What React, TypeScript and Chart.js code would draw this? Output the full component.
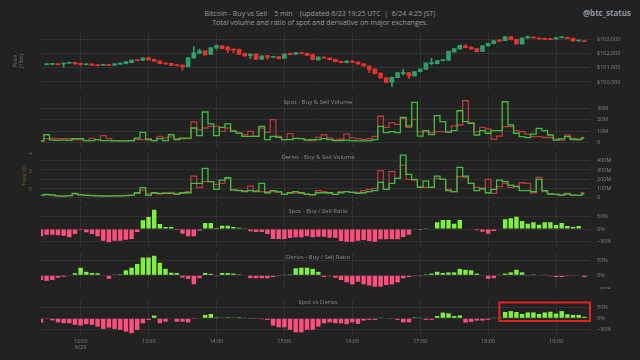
import React, { useEffect, useRef } from 'react';
import { Chart, registerables } from 'chart.js';

Chart.register(...registerables);

const FONT = "'Open Sans', 'DejaVu Sans', sans-serif";
Chart.defaults.font.family = FONT;

const TIMES = [
  '11:25', '11:30', '11:35', '11:40', '11:45', '11:50', '11:55',
  '12:00', '12:05', '12:10', '12:15', '12:20', '12:25', '12:30', '12:35', '12:40', '12:45', '12:50', '12:55',
  '13:00', '13:05', '13:10', '13:15', '13:20', '13:25', '13:30', '13:35', '13:40', '13:45', '13:50', '13:55',
  '14:00', '14:05', '14:10', '14:15', '14:20', '14:25', '14:30', '14:35', '14:40', '14:45', '14:50', '14:55',
  '15:00', '15:05', '15:10', '15:15', '15:20', '15:25', '15:30', '15:35', '15:40', '15:45', '15:50', '15:55',
  '16:00', '16:05', '16:10', '16:15', '16:20', '16:25', '16:30', '16:35', '16:40', '16:45', '16:50', '16:55',
  '17:00', '17:05', '17:10', '17:15', '17:20', '17:25', '17:30', '17:35', '17:40', '17:45', '17:50', '17:55',
  '18:00', '18:05', '18:10', '18:15', '18:20', '18:25', '18:30', '18:35', '18:40', '18:45', '18:50', '18:55',
  '19:00', '19:05', '19:10', '19:15', '19:20', '19:25', '19:30',
];
const DATE_LABEL = { time: '12:00', date: '6/23' };

// Price candles (USD)
const PRICE_OPEN = [null,
  101208, 101231, 101278, 101255, 101301, 101371, 101301, 101208, 101255, 101208,
  101161, 101231, 101161, 101231, 101278, 101348, 101535, 101511, 101697, 101580,
  101464, 101324, 101301, 101185, 101185, 101068, 101673, 101999, 102185, 101929,
  102371, 102534, 102418, 102302, 102278, 101999, 101836, 101953, 101580, 101836,
  101720, 101766, 101650, 101999, 101929, 102046, 101999, 101906, 101535, 101743,
  101673, 101580, 101441, 101348, 101464, 101394, 101278, 101115, 100905, 100626,
  100300, 99975, 100300, 100580, 100649, 100417, 100719, 100882, 101278, 101278,
  101487, 101511, 102092, 102302, 102534, 102418, 102325, 102139, 102511, 102674,
  102930, 102883, 103163, 102976, 102651, 103070, 103139, 103070, 103046, 103023,
  103000, 103093, 103116, 103046, 102860, 102883, null];
const PRICE_CLOSE = [null,
  101255, 101278, 101208, 101324, 101371, 101255, 101208, 101255, 101161, 101138,
  101231, 101161, 101278, 101324, 101417, 101535, 101487, 101673, 101535, 101441,
  101278, 101255, 101161, 101138, 101068, 101697, 102046, 102185, 101883, 102395,
  102534, 102325, 102232, 102232, 101929, 101813, 101953, 101580, 101813, 101720,
  101790, 101627, 101953, 101906, 102046, 101976, 101860, 101560, 101743, 101673,
  101557, 101417, 101348, 101464, 101371, 101255, 101115, 100882, 100580, 100277,
  99975, 100324, 100649, 100673, 100417, 100719, 100905, 101324, 101348, 101487,
  101557, 102139, 102325, 102558, 102395, 102302, 102115, 102534, 102697, 102883,
  102837, 103163, 102953, 102651, 103070, 103163, 103070, 103000, 102976, 102953,
  103093, 103139, 103023, 102860, 102907, 102814, null];
const PRICE_HIGH = [null,
  101280, 101300, 101290, 101340, 101390, 101390, 101320, 101270, 101270, 101220,
  101250, 101245, 101290, 101340, 101430, 101550, 101550, 101690, 101710, 101595,
  101480, 101340, 101315, 101200, 101200, 101710, 102465, 102302, 102200, 102410,
  102604, 102550, 102511, 102320, 102295, 102015, 101970, 101970, 101830, 101850,
  101805, 101780, 101970, 102015, 102060, 102060, 102015, 101920, 101760, 101760,
  101690, 101595, 101455, 101480, 101480, 101410, 101295, 101130, 100920, 100640,
  100315, 100340, 100665, 100882, 100665, 100735, 100920, 101340, 101650, 101505,
  101575, 102155, 102340, 102575, 102604, 102465, 102340, 102550, 102715, 102900,
  102960, 103180, 103180, 102995, 103085, 103220, 103155, 103085, 103060, 103040,
  103110, 103155, 103130, 103060, 102920, 102900, null];
const PRICE_LOW = [null,
  101190, 101210, 101190, 101022, 101290, 101240, 101190, 101190, 101150, 101120,
  101150, 101145, 101150, 101220, 101265, 101335, 101470, 101500, 101520, 101425,
  101260, 101240, 101145, 101120, 100836, 101050, 101660, 101985, 101870, 101915,
  102278, 102310, 102046, 102046, 101915, 101800, 101627, 101565, 101565, 101580,
  101705, 101610, 101635, 101890, 101915, 101960, 101845, 101540, 101520, 101660,
  101540, 101400, 101330, 101335, 101355, 101240, 101100, 100649, 100565, 100260,
  99960, 99672, 100285, 100487, 100254, 100400, 100705, 100865, 101185, 101265,
  101470, 101495, 102075, 102285, 102370, 102285, 102100, 102125, 102495, 102660,
  102820, 102870, 102940, 102635, 102635, 103055, 103055, 102985, 102960, 102940,
  102985, 103080, 103010, 102845, 102845, 102800, null];
const PRICE_TICKS = [100000, 101000, 102000, 103000];

// Spot volume (millions USD)
const SPOT_BUY = [
  1.5, 6.9, 2.2, 2.0, 2.2, 2.0, 3.5, 3.5, 1.8, 1.8,
  2.6, 1.8, 1.8, 1.5, 1.5, 1.5, 1.8, 4.0, 9.0, 2.6,
  1.8, 3.5, 1.8, 6.9, 2.6, 4.0, 4.0, 12.8, 6.1, 26.7,
  16.3, 6.1, 13.4, 16.3, 9.9, 8.4, 5.5, 5.5, 5.5, 14.2,
  2.6, 5.5, 4.7, 2.6, 2.6, 3.8, 3.5, 2.2, 2.6, 2.6,
  3.5, 2.6, 1.8, 1.8, 2.2, 1.8, 1.5, 1.5, 1.8, 2.6,
  14.2, 8.8, 9.6, 8.8, 22.0, 14.6, 35.0, 5.8, 10.5, 7.1,
  23.5, 18.3, 9.2, 10.5, 27.8, 18.3, 16.8, 6.7, 10.5, 8.2,
  10.5, 10.5, 35.6, 15.4, 8.2, 5.3, 4.4, 7.5, 12.5, 10.5,
  6.7, 2.3, 3.3, 5.3, 2.8, 2.8, 3.8, null];
const SPOT_SELL = [
  1.5, 3.5, 3.8, 3.5, 3.5, 3.5, 2.6, 2.6, 1.8, 3.8,
  2.6, 6.1, 3.5, 1.8, 1.5, 1.5, 1.8, 2.6, 2.6, 3.5,
  1.8, 5.5, 4.2, 5.0, 3.5, 3.5, 3.5, 18.0, 11.4, 12.8,
  14.2, 14.2, 9.9, 12.8, 10.5, 8.4, 6.9, 9.9, 5.5, 12.8,
  9.0, 20.0, 5.5, 2.6, 7.9, 3.5, 3.5, 2.6, 1.8, 4.7,
  6.9, 4.2, 2.6, 3.0, 7.5, 4.2, 3.5, 2.6, 3.5, 5.5,
  23.0, 13.4, 17.4, 16.0, 21.0, 13.4, 20.3, 9.6, 9.6, 8.8,
  9.6, 9.6, 9.6, 14.6, 15.4, 36.5, 17.4, 9.6, 13.4, 11.9,
  3.0, 5.8, 14.0, 14.0, 10.5, 9.6, 7.5, 5.3, 5.3, 4.5,
  4.5, 3.3, 2.3, 6.7, 3.8, 2.8, 4.5, null];
const SPOT_VOL_TICKS = [0, 10, 20, 30];

// Derivatives volume (millions USD)
const DERIV_BUY = [
  25, 35, 30, 20, 18, 22, 47, 30, 25, 22,
  20, 18, 18, 20, 20, 22, 25, 54, 110, 25,
  54, 47, 47, 47, 36, 54, 54, 155, 155, 318,
  173, 90, 191, 216, 83, 76, 65, 76, 65, 155,
  54, 76, 65, 36, 54, 65, 54, 36, 33, 54,
  54, 54, 36, 54, 65, 58, 47, 54, 65, 76,
  166, 90, 155, 209, 461, 252, 198, 112, 180, 112,
  234, 198, 76, 65, 328, 234, 155, 76, 101, 54,
  90, 191, 173, 137, 119, 76, 76, 65, 198, 76,
  40, 36, 29, 40, 29, 25, 40, null];
const DERIV_SELL = [
  25, 33, 25, 20, 18, 22, 40, 33, 29, 25,
  22, 22, 20, 20, 22, 25, 29, 47, 83, 40,
  47, 40, 54, 58, 47, 47, 65, 234, 110, 173,
  173, 143, 155, 209, 90, 83, 76, 126, 76, 65,
  65, 65, 58, 36, 47, 54, 47, 40, 29, 76,
  65, 47, 36, 65, 65, 58, 58, 76, 90, 101,
  292, 90, 281, 209, 353, 198, 191, 119, 112, 112,
  209, 198, 90, 65, 227, 220, 155, 112, 90, 198,
  47, 119, 155, 112, 126, 162, 155, 54, 220, 65,
  40, 36, 29, 47, 29, 25, 54, null];
const DERIV_VOL_TICKS = [0, 100, 200, 300, 400];
const OI_TICKS = [0, 2, 4];

// Ratios (%)
const SPOT_RATIO = [
  -29, -23, -23, -25, -27, -33, -20, -4, -13, -20,
  -29, -47, -53, -47, -47, -43, -40, -12, 35, 48,
  77, 20, 8, 8, -4, -19, -29, -29, -7, 24,
  24, 4, 13, 13, 8, 5, 3, -9, -12, -12,
  -20, -40, -40, -40, -36, -33, -33, -29, -33, -31,
  -31, -35, -35, -48, -51, -51, -47, -44, -48, -51,
  -41, -41, -41, -41, -32, -23, -2, -4, 1, 2,
  27, 36, 36, 21, 36, 0, 2, -5, -11, -19,
  -8, 0, 39, 43, 49, 32, 21, 27, 17, 27,
  27, 16, 24, 12, 8, 12, 2, null];
const DERIV_RATIO = [
  -16, -19, -16, -8, -5, -2, 7, 26, 12, 8,
  7, 0, -12, 1, 3, 17, 26, 39, 61, 61,
  67, 43, 22, 9, 8, -8, -12, -31, -10, 8,
  5, -3, 8, 8, 6, 3, 0, -10, -10, -10,
  -10, -6, -3, 1, 3, 24, 26, 26, 22, 12,
  -6, -3, -8, -16, -24, -31, -22, -31, -35, -39,
  -39, -33, -31, -24, -10, -6, -3, -3, 3, 6,
  12, 8, 10, 10, 22, 19, 17, 6, 0, -12,
  -10, 1, 6, 10, 19, 10, -3, 3, 0, 1,
  -3, -6, -6, -3, -1, 0, -6, null];
const SPOT_VS_DERIV = [
  -18, -3, -9, -18, -22, -22, -29, -32, -26, -29,
  -37, -47, -41, -47, -51, -59, -66, -51, -22, -7,
  12, -22, -15, 0, -15, -15, -18, -1, 0, 15,
  19, 4, 3, 4, 3, 4, 3, -1, -1, -4,
  -7, -32, -40, -40, -51, -62, -62, -51, -51, -37,
  -22, -18, -22, -22, -26, -18, -25, -10, -7, -7,
  3, 0, -1, -7, -18, -18, 4, 3, -7, -7,
  10, 25, 22, 10, 13, -19, -16, -10, -10, -7,
  3, 1, 28, 32, 28, 19, 26, 26, 19, 26,
  29, 21, 32, 18, 15, 15, 7, null];
const RATIO_TICKS = [-50, 0, 50];
const HIGHLIGHT = { from: '18:10', to: '19:30', top: 70, bottom: -12 };

// Styling
const BG = '#222222';
const GRID = 'rgba(255,255,255,0.07)';
const TICK = '#858585';
const OI_COLOR = '#7d6530';
const UP = '#2f9e6d';
const DOWN = '#e8322f';
const BUY = '#3fbf3f';
const SELL = '#b8393d';
const POS = '#80f040';
const NEG = '#ff4f7e';
const TICK_FONT = { size: 5.5, family: FONT };

const fmtPrice = (v: number) => '$' + Number(v).toLocaleString('en-US');
const fmtM = (v: number) => (v === 0 ? '0' : `${v}M`);
const fmtPct = (v: number) => (v < 0 ? `\u2212${Math.abs(v)}%` : `${v}%`);

const zeroPadding = (scale: any) => {
  scale.paddingTop = 0;
  scale.paddingBottom = 0;
  scale.paddingLeft = 0;
  scale.paddingRight = 0;
};

function xScale(showLabels: boolean) {
  return {
    type: 'category',
    offset: false,
    grid: { color: GRID, drawTicks: false, offset: false },
    border: { display: false },
    ticks: {
      display: showLabels,
      autoSkip: false,
      maxRotation: 0,
      color: TICK,
      font: TICK_FONT,
      padding: 3,
      callback: (value: number) => {
        const l = TIMES[value];
        return l === DATE_LABEL.time ? [l, DATE_LABEL.date] : l;
      },
    },
    afterBuildTicks: (scale: any) => {
      scale.ticks = scale.ticks.filter((t: any) => TIMES[t.value].endsWith(':00'));
    },
    afterFit: (scale: any) => {
      scale.height = showLabels ? 25 : 0;
      zeroPadding(scale);
    },
  };
}

function yRight(min: number, max: number, ticks: number[], fmt: (v: number) => string) {
  return {
    type: 'linear',
    position: 'right',
    min,
    max,
    beginAtZero: false,
    grid: { color: GRID, drawTicks: false },
    border: { display: false },
    ticks: { color: TICK, font: TICK_FONT, padding: 7, callback: fmt },
    afterBuildTicks: (scale: any) => {
      scale.ticks = ticks.map((v) => ({ value: v }));
    },
    afterFit: (scale: any) => {
      scale.width = 50;
      zeroPadding(scale);
    },
  };
}

function baseOptions(scales: any, padLeft: number) {
  return {
    responsive: false,
    animation: false,
    events: [],
    layout: { padding: { left: padLeft, right: 0, top: 0, bottom: 0 }, autoPadding: false },
    plugins: { legend: { display: false }, tooltip: { enabled: false }, title: { display: false } },
    scales,
  };
}

const candleColors = TIMES.map((_, i) =>
  PRICE_OPEN[i] != null && (PRICE_CLOSE[i] as number) >= (PRICE_OPEN[i] as number) ? UP : DOWN
);

function priceConfig(): any {
  return {
    type: 'bar',
    data: {
      labels: TIMES,
      datasets: [
        {
          data: TIMES.map((_, i) => (PRICE_OPEN[i] == null ? null : [PRICE_OPEN[i], PRICE_CLOSE[i]])),
          backgroundColor: candleColors,
          barThickness: 4,
          grouped: false,
          minBarLength: 1,
        },
        {
          data: TIMES.map((_, i) => (PRICE_LOW[i] == null ? null : [PRICE_LOW[i], PRICE_HIGH[i]])),
          backgroundColor: candleColors,
          barThickness: 1,
          grouped: false,
        },
      ],
    },
    options: baseOptions({ x: xScale(false), y: yRight(99440, 103420, PRICE_TICKS, fmtPrice) }, 41),
  };
}

function volumeDatasets(buy: (number | null)[], sell: (number | null)[]) {
  const common = { stepped: 'middle', pointRadius: 0, borderWidth: 1.3, fill: false, tension: 0 };
  return [
    { ...common, data: buy, borderColor: BUY },
    { ...common, data: sell, borderColor: SELL },
  ];
}

function spotVolConfig(): any {
  return {
    type: 'line',
    data: { labels: TIMES, datasets: volumeDatasets(SPOT_BUY, SPOT_SELL) },
    options: baseOptions({ x: xScale(false), y: yRight(-3.74, 39.74, SPOT_VOL_TICKS, fmtM) }, 41),
  };
}

function derivVolConfig(): any {
  return {
    type: 'line',
    data: { labels: TIMES, datasets: volumeDatasets(DERIV_BUY, DERIV_SELL) },
    options: baseOptions(
      {
        x: xScale(false),
        y: yRight(-57, 494, DERIV_VOL_TICKS, fmtM),
        oi: {
          type: 'linear',
          position: 'left',
          min: -1.51,
          max: 4.11,
          grid: { display: false },
          border: { display: false },
          ticks: { color: OI_COLOR, font: TICK_FONT, padding: 1 },
          afterBuildTicks: (scale: any) => {
            scale.ticks = OI_TICKS.map((v) => ({ value: v }));
          },
          afterFit: (scale: any) => {
            scale.width = 41;
            zeroPadding(scale);
          },
        },
      },
      0
    ),
  };
}

function ratioConfig(values: (number | null)[], min: number, max: number, showX: boolean, extraPlugins: any[] = []): any {
  return {
    type: 'bar',
    data: {
      labels: TIMES,
      datasets: [
        {
          data: values,
          backgroundColor: values.map((v) => ((v ?? 0) >= 0 ? POS : NEG)),
          barPercentage: 0.78,
          categoryPercentage: 1,
        },
      ],
    },
    options: baseOptions({ x: xScale(showX), y: yRight(min, max, RATIO_TICKS, fmtPct) }, 41),
    plugins: extraPlugins,
  };
}

const highlightPlugin = {
  id: 'highlightBox',
  afterDatasetsDraw(chart: any) {
    const { ctx, scales } = chart;
    const x0 = scales.x.getPixelForValue(TIMES.indexOf(HIGHLIGHT.from));
    const x1 = scales.x.getPixelForValue(TIMES.indexOf(HIGHLIGHT.to));
    const y0 = scales.y.getPixelForValue(HIGHLIGHT.top);
    const y1 = scales.y.getPixelForValue(HIGHLIGHT.bottom);
    ctx.save();
    ctx.strokeStyle = '#e5221e';
    ctx.lineWidth = 2;
    ctx.strokeRect(x0, y0, x1 - x0, y1 - y0);
    ctx.restore();
  },
};

function Panel({ top, height, make }: { top: number; height: number; make: () => any }) {
  const ref = useRef<HTMLCanvasElement | null>(null);
  useEffect(() => {
    if (!ref.current) return;
    const chart = new Chart(ref.current, make());
    return () => chart.destroy();
  }, []);
  return (
    <canvas
      ref={ref}
      width={640}
      height={height}
      style={{ position: 'absolute', left: 0, top, width: 640, height, display: 'block' }}
    />
  );
}

function Text({
  x, y, size, color, bold = false, align = 'center', rotate = false, lineHeight, children,
}: {
  x: number; y: number; size: number; color: string; bold?: boolean; align?: 'center' | 'right';
  rotate?: boolean; lineHeight?: number; children: React.ReactNode;
}) {
  const tx = align === 'right' ? '-100%' : '-50%';
  return (
    <div
      style={{
        position: 'absolute',
        left: x,
        top: y,
        transform: `translate(${tx}, -50%)${rotate ? ' rotate(-90deg)' : ''}`,
        fontFamily: FONT,
        fontSize: size,
        lineHeight: `${lineHeight ?? size * 1.25}px`,
        fontWeight: bold ? 700 : 400,
        color,
        whiteSpace: 'pre',
        textAlign: 'center',
      }}
    >
      {children}
    </div>
  );
}

export default function App() {
  return (
    <div style={{ position: 'fixed', left: 0, top: 0, width: 640, height: 360, background: BG, overflow: 'hidden' }}>
      <Panel top={33} height={57} make={priceConfig} />
      <Panel top={97} height={50} make={spotVolConfig} />
      <Panel top={152} height={51} make={derivVolConfig} />
      <Panel top={207} height={40} make={() => ratioConfig(SPOT_RATIO, -72, 88, false)} />
      <Panel top={253} height={36} make={() => ratioConfig(DERIV_RATIO, -46.9, 76.4, false)} />
      <Panel top={300} height={60} make={() => ratioConfig(SPOT_VS_DERIV, -73.9, 81, true, [highlightPlugin])} />

      <Text x={320} y={14} size={7} color="#9a9a9a">
        {'Bitcoin - Buy vs Sell    5 min    (updated 6/23 19:25 UTC  |  6/24 4:25 JST)'}
      </Text>
      <Text x={320} y={22.7} size={7} color="#9a9a9a">
        {'Total volume and ratio of spot and derivative on major exchanges.'}
      </Text>
      <Text x={631} y={12.7} size={8} bold color="#8f969f" align="right">
        {'@btc_status'}
      </Text>

      <Text x={17.5} y={61} size={5.5} color="#6f6f6f" rotate lineHeight={6}>
        {'Price\n(15m)'}
      </Text>
      <Text x={23.5} y={176} size={5.5} color={OI_COLOR} rotate>
        {'Total OI'}
      </Text>

      <Text x={318} y={102.7} size={6} color="#8c8c8c">{'Spot - Buy & Sell Volume'}</Text>
      <Text x={318} y={157.7} size={6} color="#8c8c8c">{'Derivs - Buy & Sell Volume'}</Text>
      <Text x={318} y={212} size={6} color="#8c8c8c">{'Spot - Buy / Sell Ratio'}</Text>
      <Text x={318} y={257.7} size={6} color="#8c8c8c">{'Derivs - Buy / Sell Ratio'}</Text>
      <Text x={318} y={303.3} size={6} color="#8c8c8c">{'Spot vs Derivs'}</Text>
    </div>
  );
}
